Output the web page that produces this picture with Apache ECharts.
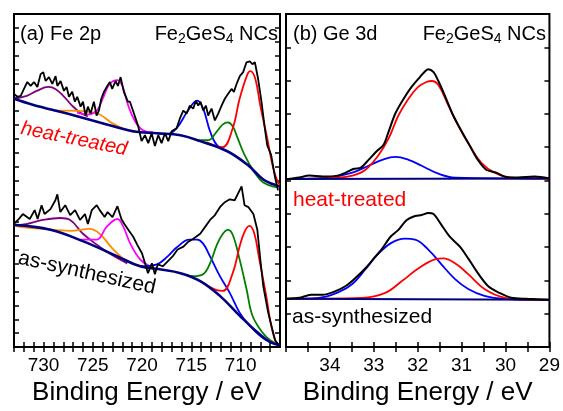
<!DOCTYPE html>
<html>
<head>
<meta charset="utf-8">
<script src="https://cdn.jsdelivr.net/npm/echarts@6/dist/echarts.min.js"></script>
<style>
html, body { margin: 0; padding: 0; background: #fff; }
#main { width: 563px; height: 411px; }
</style>
</head>
<body>
<div id="main"></div>
<script>
// Fe 2p panel, heat-treated sample (binding energy eV, intensity a.u.)
var feHeatRaw = [[733.0,257],[732.66,254],[732.32,255],[731.99,262],[731.65,269],[731.31,265],[730.97,269],[730.63,264],[730.30,277],[730.03,279],[729.79,270],[729.45,274],[729.11,267],[728.78,275],[728.6,265],[728.27,270],[727.93,260],[727.66,264],[727.42,254],[727.09,259],[726.82,249],[726.58,254],[726.24,244],[726.0,249],[725.73,235],[725.5,244],[725.23,237],[724.89,249],[724.62,235],[724.38,240],[724.14,252],[723.87,259],[723.53,265],[723.27,269],[723.03,262],[722.69,270],[722.45,265],[722.18,274],[721.85,259],[721.44,249],[721.23,249],[720.72,234],[720.39,224],[720.05,209],[719.71,215],[719.37,207],[719.03,217],[718.7,204],[718.36,215],[718.02,207],[717.68,217],[717.34,209],[717.0,219],[716.5,222],[716.16,232],[715.82,240],[715.48,237],[715.15,245],[714.81,242],[714.54,250],[714.3,245],[714.07,249],[713.79,240],[713.52,245],[713.29,235],[712.95,242],[712.61,230],[712.27,237],[711.93,245],[711.6,252],[711.26,257],[710.92,262],[710.68,259],[710.41,267],[710.08,275],[709.74,279],[709.4,289],[709.06,290],[708.79,287],[708.55,289],[708.22,272],[707.88,249],[707.54,222],[707.3,205],[706.9,195],[706.5,172],[706.2,159]];
var feHeatBg = [[733,252],[731.1,246],[727.6,237],[724.3,228],[720.9,219],[718.5,217],[716.1,215],[714.1,209],[711.4,199],[709.3,185],[707.7,170],[706.6,165],[706,163]];
var feHeatRed = [[713.5,208],[712.5,204],[711.8,203],[710.8,222],[710.1,252],[709.3,277],[709.0,280],[708.5,272],[708.0,245],[707.3,212],[706.7,182],[706.2,167],[706,165]];
var feHeatGreen = [[714.5,210],[713.3,210],[712.4,219],[711.8,226],[711.3,228],[710.8,224],[710.3,212],[709.6,195],[708.7,179],[707.7,167],[706.2,162]];
var feHeatBlue = [[718.5,217],[717.5,216],[716.5,222],[715.4,239],[714.4,250],[713.8,242],[713.1,219],[712.4,205],[711.4,199]];
var feHeatMagenta = [[726.6,238],[725.6,236],[724.6,240],[724.0,252],[723.3,267],[722.5,271],[722.0,265],[721.4,245],[720.7,229],[719.9,220],[718.9,218]];
var feHeatOrange = [[729,240],[727.6,240],[725.6,239],[724.3,236],[723.0,227],[721.5,220],[720.5,218]];
var feHeatPurple = [[733,252],[731.7,255],[730.7,260],[729.5,264],[728.8,262],[728.0,255],[727.1,245],[726.3,238],[725.5,234]];

// Fe 2p panel, as-synthesized sample
var feAsRaw = [[733.0,125],[732.6,129],[732.1,135],[731.4,130],[730.9,139],[730.6,130],[730.2,144],[729.9,135],[729.3,140],[728.8,149],[728.6,155],[728.3,137],[727.8,144],[727.3,134],[726.8,139],[726.3,129],[725.8,135],[725.5,125],[725.1,139],[724.6,144],[724.3,139],[723.8,132],[723.5,137],[723.0,132],[722.5,143],[722.1,130],[721.8,125],[721.4,119],[720.9,112],[720.5,104],[720.0,95],[719.7,85],[719.4,75],[719.0,85],[718.7,74],[718.4,84],[717.9,82],[717.4,87],[716.9,92],[716.4,99],[715.8,102],[715.3,107],[714.8,110],[714.1,115],[713.6,122],[713.1,129],[712.6,134],[712.1,142],[711.6,147],[711.1,150],[710.6,149],[710.3,155],[709.9,163],[709.6,144],[709.2,142],[708.7,135],[708.3,119],[708.0,89],[707.7,62],[707.2,35],[706.8,19],[706.5,7],[706.2,3]];
var feAsBg = [[733,124],[729.3,119],[725.9,107],[722.5,92],[720.2,82],[718.2,79],[716.1,75],[714.1,67],[712.1,52],[710.1,32],[708.3,15],[707.0,5],[706,2]];
var feAsRed = [[714.1,67],[712.5,58],[711.8,57],[710.8,75],[710.1,102],[709.6,117],[709.1,123],[708.6,115],[708.1,89],[707.4,52],[706.9,22],[706.4,5],[706,2]];
var feAsGreen = [[715.5,73],[714.8,72],[713.8,74],[713.1,85],[712.4,104],[711.8,115],[711.3,119],[710.8,114],[710.1,89],[709.4,59],[708.8,32],[707.8,15],[707.0,7],[706.2,3]];
var feAsBlue = [[720.2,82],[718.5,84],[717.4,92],[716.5,101],[715.2,109],[714.4,109],[713.8,105],[713.1,92],[712.1,72],[711.1,55],[710.1,35],[709.1,22],[707.7,9],[706.2,2]];
var feAsMagenta = [[726.3,109],[724.6,109],[723.6,122],[722.5,130],[721.9,122],[721.2,105],[720.2,89],[719.2,82]];
var feAsOrange = [[733,124],[732.4,122],[730.1,120],[727.3,118],[725.3,120],[724.3,115],[723.0,100],[721.5,87],[719.9,82]];
var feAsPurple = [[733,124],[732.4,124],[730.1,129],[728.3,131],[727.3,129],[726.0,115],[724.6,104],[723.3,95],[721.5,85]];

// Ge 3d panel
var geHeatRaw = [[35.0,170],[34.7,172],[34.47,174],[34.17,173],[33.83,174],[33.64,177],[33.45,181],[33.3,182],[33.12,190],[32.93,199],[32.78,205],[32.66,219],[32.51,237],[32.32,252],[32.14,264],[31.95,274],[31.83,280],[31.76,282],[31.64,279],[31.53,270],[31.38,255],[31.19,235],[31.0,219],[30.81,204],[30.63,190],[30.44,180],[30.21,177],[30.02,173],[29.72,172],[29.34,173],[29.0,171]];
var geHeatRed = [[35,170.5],[33.8,172],[33.49,174],[33.19,180],[32.89,195],[32.66,212],[32.44,235],[32.21,252],[31.99,264],[31.8,269],[31.68,270],[31.53,266],[31.3,245],[31.07,224],[30.81,204],[30.55,187],[30.25,177],[29.87,172],[29,171]];
var geHeatBlue = [[35,170.5],[34.02,172],[33.49,177],[33.12,184],[32.81,190],[32.51,193],[32.21,190],[31.91,184],[31.53,176],[31.15,172],[29,171]];
var geHeatBg = [[35,170.5],[29,171]];
var geAsRaw = [[35.0,49],[34.7,50],[34.43,53],[34.17,53],[33.91,56],[33.64,62],[33.42,70],[33.19,80],[33.0,90],[32.81,100],[32.62,112],[32.44,119],[32.25,129],[32.06,133],[31.91,134],[31.76,136],[31.64,135],[31.46,124],[31.27,112],[31.04,102],[30.85,90],[30.63,75],[30.4,62],[30.14,55],[29.87,50],[29.5,49],[29.0,48]];
var geAsBlue = [[35,49],[34.25,50],[33.79,56],[33.49,64],[33.19,79],[32.89,95],[32.59,106],[32.29,110],[32.06,109],[31.76,99],[31.46,84],[31.15,69],[30.85,59],[30.48,52],[30.02,49],[29,48]];
var geAsRed = [[35,49],[33.27,50],[32.74,55],[32.36,67],[31.98,80],[31.61,89],[31.42,90],[31.15,85],[30.85,74],[30.48,59],[30.02,50],[29.5,48],[29,48]];
var geAsBg = [[35,49],[29,48]];

// tick labels
var feLabels = [730, 725, 720, 715, 710];
var feTicks = [707,708,709,710,711,712,713,714,715,716,717,718,719,720,721,722,723,724,725,726,727,728,729,730,731,732,733];
var geLabels = [34, 33, 32, 31, 30, 29];
var geTicks = [29,29.5,30,30.5,31,31.5,32,32.5,33,33.5,34,34.5,35];

var FONT = 'Liberation Sans, Arial, sans-serif';
var myChart = echarts.init(document.getElementById('main'));

function line(data, color, width, axis, smooth) {
  return {
    type: 'line', data: data, xAxisIndex: axis, yAxisIndex: axis,
    showSymbol: false, smooth: smooth, silent: true, animation: false,
    lineStyle: { color: color, width: width }
  };
}

function xAx(grid, min, max, labels, ticks, pos) {
  var bottom = pos === 'bottom';
  return {
    gridIndex: grid, type: 'value', min: min, max: max, inverse: true, position: pos,
    axisLine: { show: false },
    axisTick: { inside: true, length: 5, customValues: ticks, lineStyle: { color: '#000', width: 1.5 } },
    axisLabel: { show: bottom, customValues: labels, fontSize: 19, color: '#000', margin: 9, fontFamily: FONT },
    splitLine: { show: false },
    name: bottom ? 'Binding Energy / eV' : '', nameLocation: 'middle', nameGap: 30,
    nameTextStyle: { fontSize: 26, color: '#000', fontFamily: FONT }
  };
}

function yAx(grid, step, pos) {
  return {
    gridIndex: grid, type: 'value', min: 0, max: 338, interval: step, position: pos,
    axisLine: { show: false },
    axisTick: { inside: true, length: 5, lineStyle: { color: '#000', width: 1.5 } },
    axisLabel: { show: false }, splitLine: { show: false }
  };
}

var subRich = {
  n: { fontSize: 20, color: '#000', fontFamily: FONT },
  s: { fontSize: 14, color: '#000', fontFamily: FONT, padding: [11, 0, 0, 0] }
};

function txt(x, y, text, size, color, align, extra) {
  var st = { text: text, fontSize: size, fill: color, fontFamily: FONT, align: align, verticalAlign: 'middle' };
  if (extra) for (var k in extra) st[k] = extra[k];
  return { type: 'text', x: x, y: y, style: st, silent: true };
}

var heatLabel = txt(74, 139, 'heat-treated', 20, '#ff0000', 'center', { fontStyle: 'italic' });
heatLabel.rotation = -11.5 * Math.PI / 180;
var asLabel = txt(87, 273, 'as-synthesized', 21, '#000', 'center');
asLabel.rotation = -12.5 * Math.PI / 180;

myChart.setOption({
  animation: false,
  grid: [
    { left: 14, top: 14, width: 266, height: 338, show: true, borderColor: '#000', borderWidth: 2, backgroundColor: 'transparent' },
    { left: 286, top: 14, width: 265, height: 338, show: true, borderColor: '#000', borderWidth: 2, backgroundColor: 'transparent' }
  ],
  xAxis: [
    xAx(0, 706, 733, feLabels, feTicks, 'bottom'),
    xAx(1, 29, 35, geLabels, geTicks, 'bottom'),
    xAx(0, 706, 733, feLabels, feTicks, 'top'),
    xAx(1, 29, 35, geLabels, geTicks, 'top')
  ],
  yAxis: [
    yAx(0, 338 / 24, 'left'),
    yAx(1, 33.8, 'left'),
    yAx(0, 338 / 24, 'right'),
    yAx(1, 33.8, 'right')
  ],
  series: [
    line(feHeatPurple, '#800080', 1.8, 0, 0.4),
    line(feHeatOrange, '#ff8c00', 1.8, 0, 0.4),
    line(feHeatMagenta, '#ff00ff', 1.8, 0, 0.4),
    line(feHeatBlue, '#0000ff', 1.8, 0, 0.4),
    line(feHeatGreen, '#008000', 1.8, 0, 0.4),
    line(feHeatRed, '#ff0000', 1.8, 0, 0.4),
    line(feHeatBg, '#000080', 2.6, 0, 0.4),
    line(feHeatRaw, '#000', 1.8, 0, false),
    line(feAsPurple, '#800080', 1.8, 0, 0.4),
    line(feAsOrange, '#ff8c00', 1.8, 0, 0.4),
    line(feAsMagenta, '#ff00ff', 1.8, 0, 0.4),
    line(feAsBlue, '#0000ff', 1.8, 0, 0.4),
    line(feAsGreen, '#008000', 1.8, 0, 0.4),
    line(feAsRed, '#ff0000', 1.8, 0, 0.4),
    line(feAsBg, '#000080', 2.6, 0, 0.4),
    line(feAsRaw, '#000', 1.8, 0, false),
    line(geHeatBlue, '#0000ff', 1.8, 1, 0.4),
    line(geHeatRed, '#ff0000', 1.8, 1, 0.4),
    line(geHeatBg, '#000080', 2, 1, false),
    line(geHeatRaw, '#000', 2, 1, 0.3),
    line(geAsBlue, '#0000ff', 1.8, 1, 0.4),
    line(geAsRed, '#ff0000', 1.8, 1, 0.4),
    line(geAsBg, '#000080', 2, 1, false),
    line(geAsRaw, '#000', 2, 1, 0.3)
  ],
  graphic: [
    txt(20, 34, '(a) Fe 2p', 20, '#000', 'left'),
    txt(278, 34, '{n|Fe}{s|2}{n|GeS}{s|4}{n| NCs}', 20, '#000', 'right', { rich: subRich }),
    txt(293, 34, '(b) Ge 3d', 20, '#000', 'left'),
    txt(546, 34, '{n|Fe}{s|2}{n|GeS}{s|4}{n| NCs}', 20, '#000', 'right', { rich: subRich }),
    heatLabel,
    asLabel,
    txt(293, 200, 'heat-treated', 21, '#ff0000', 'left'),
    txt(292, 317, 'as-synthesized', 21, '#000', 'left')
  ]
});
</script>
</body>
</html>
